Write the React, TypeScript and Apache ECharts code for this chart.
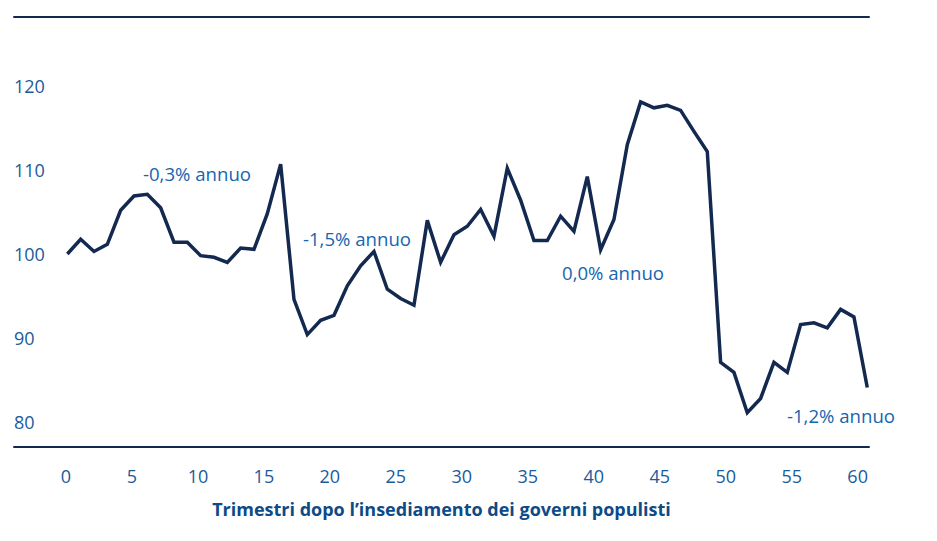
import React, { useEffect, useRef } from "react";
import * as echarts from "echarts";

const quarters: number[] = Array.from({ length: 61 }, (_, i) => i);
const indexValues: number[] = [
  100.0, 101.75, 100.3, 101.15, 105.2, 106.9, 107.1, 105.5, 101.4, 101.4,
  99.8, 99.6, 99.0, 100.7, 100.55, 104.8, 110.7, 94.6, 90.4, 92.1,
  92.7, 96.2, 98.6, 100.3, 95.8, 94.7, 93.9, 104.0, 99.0, 102.3,
  103.3, 105.3, 102.1, 110.2, 106.4, 101.6, 101.6, 104.5, 102.7, 109.2,
  100.5, 104.1, 113.0, 118.1, 117.4, 117.7, 117.1, 114.6, 112.2, 87.1,
  85.9, 81.1, 82.8, 87.1, 85.9, 91.6, 91.8, 91.2, 93.4, 92.5,
  84.1,
];
const xTickLabels: number[] = [0, 5, 10, 15, 20, 25, 30, 35, 40, 45, 50, 55, 60];
const yTickLabels: number[] = [80, 90, 100, 110, 120];
const annotations: string[] = ["-0,3% annuo", "-1,5% annuo", "0,0% annuo", "-1,2% annuo"];
const xAxisTitle = "Trimestri dopo l\u2019insediamento dei governi populisti";

const FONT = "'Open Sans', sans-serif";
const NAVY = "#13294f";
const LABEL_BLUE = "#1a5b9c";
const ANNOT_BLUE = "#1565b0";
const TITLE_BLUE = "#0e4a87";

export default function App() {
  const ref = useRef<HTMLDivElement>(null);

  useEffect(() => {
    if (!ref.current) return;
    const chart = echarts.init(ref.current, undefined, { renderer: "svg" });
    const annotPos = [
      [143, 173],
      [303, 238],
      [562, 272],
      [787, 415],
    ];
    chart.setOption({
      animation: false,
      backgroundColor: "#ffffff",
      grid: { left: 14, right: 68, top: 17, bottom: 94, containLabel: false },
      xAxis: [
        {
          type: "value",
          position: "top",
          min: -4,
          max: 60.13,
          axisLine: { show: true, lineStyle: { color: NAVY, width: 2 } },
          axisTick: { show: false },
          axisLabel: { show: false },
          splitLine: { show: false },
        },
        {
          type: "value",
          position: "bottom",
          min: -3.94,
          max: 60.86,
          axisLine: { show: true, onZero: false, lineStyle: { color: NAVY, width: 2 } },
          axisTick: { show: false },
          splitLine: { show: false },
          axisLabel: {
            show: true,
            customValues: xTickLabels,
            color: LABEL_BLUE,
            fontFamily: FONT,
            fontSize: 18,
            margin: 20,
            showMinLabel: true,
            showMaxLabel: true,
          },
          name: xAxisTitle,
          nameLocation: "middle",
          nameGap: 53,
          nameTextStyle: {
            color: TITLE_BLUE,
            fontFamily: FONT,
            fontSize: 18,
            fontWeight: "bold",
          },
        },
      ],
      yAxis: {
        type: "value",
        min: 77.02,
        max: 128.21,
        axisLine: { show: false },
        axisTick: { show: false },
        splitLine: { show: false },
        axisLabel: {
          show: true,
          customValues: yTickLabels,
          align: "left",
          margin: 0,
          color: LABEL_BLUE,
          fontFamily: FONT,
          fontSize: 18,
        },
      },
      series: [
        {
          type: "line",
          xAxisIndex: 0,
          data: quarters.map((q, i) => [q, indexValues[i]]),
          showSymbol: false,
          symbol: "none",
          lineStyle: { color: NAVY, width: 3.5, join: "miter", miterLimit: 10 },
          silent: true,
        },
      ],
      graphic: annotations.map((t, i) => ({
        type: "text",
        x: annotPos[i][0],
        y: annotPos[i][1],
        style: {
          text: t,
          fill: ANNOT_BLUE,
          fontFamily: FONT,
          fontSize: 18.6,
          align: "left",
          verticalAlign: "middle",
        },
      })),
    });
    return () => chart.dispose();
  }, []);

  return (
    <div
      ref={ref}
      style={{ position: "fixed", left: 0, top: 0, width: 937, height: 541, background: "#fff" }}
    />
  );
}
